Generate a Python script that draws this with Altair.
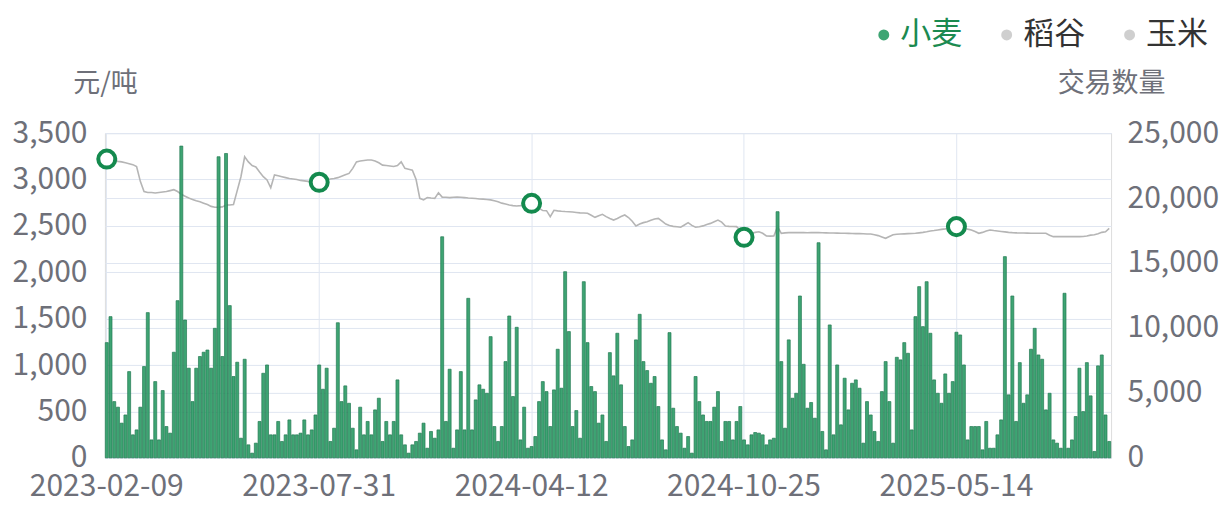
import altair as alt
import pandas as pd
import numpy as np

# ---------------- data ----------------
label_dates = ["2023-02-09", "2023-07-31", "2024-04-12", "2024-10-25", "2025-05-14"]
label_step = 57
n_points = 270

volume = [
    8870, 10870, 4330, 3900, 2670, 3300, 6640, 1770, 2150, 3900,
    7030, 11180, 1380, 5870, 1380, 5180, 2410, 1900, 8130, 12100,
    24000, 10610, 6900, 4330, 6900, 7800, 8130, 8300, 6900, 9970,
    23180, 7800, 23430, 11720, 6260, 7360, 1510, 7590, 1000, 360,
    1130, 2800, 6510, 7150, 1770, 1770, 2800, 1260, 1770, 2920,
    1770, 1770, 1900, 2920, 1770, 2150, 3300, 7150, 5280, 6900,
    1260, 2280, 10400, 4330, 5540, 4200, 2280, 615, 3900, 1770,
    2800, 1770, 3690, 4590, 1260, 2800, 1770, 2800, 6000, 1770,
    1000, 360, 1000, 1260, 1900, 2670, 740, 2030, 1510, 2150,
    17020, 2800, 6820, 740, 2150, 6640, 2150, 12280, 2150, 4460,
    5620, 5280, 4970, 9330, 2410, 1260, 2410, 7410, 10920, 4720,
    10050, 1380, 3900, 740, 870, 1640, 4330, 5870, 5100, 2410,
    5230, 8360, 5360, 14330, 9720, 2410, 3640, 1510, 13560, 8870,
    5490, 5100, 2670, 3300, 1260, 8100, 6310, 9590, 5620, 2410,
    870, 1380, 9080, 11050, 7410, 6720, 5740, 6260, 3950, 1380,
    615, 9640, 3820, 2410, 1900, 740, 1640, 360, 6260, 4330,
    3300, 2800, 2800, 3900, 5100, 1260, 2800, 2800, 1380, 2800,
    3950, 1380, 1000, 1770, 1950, 1900, 1770, 1000, 1380, 1510,
    18950, 7410, 2280, 9080, 4590, 4970, 12460, 7200, 3820, 4260,
    3050, 16560, 2030, 615, 10230, 1770, 7150, 2540, 6130, 3690,
    5740, 6000, 5360, 1130, 4330, 3300, 2030, 1260, 5100, 7410,
    4330, 1130, 7740, 7540, 8870, 8050, 2150, 10870, 13180, 10100,
    13560, 9590, 6000, 4970, 4200, 6460, 4970, 5870, 9670, 9460,
    7150, 1380, 2410, 2410, 2410, 615, 2800, 740, 740, 1770,
    2920, 15490, 4850, 12460, 2800, 7330, 4200, 4850, 8360, 9970,
    7920, 7590, 3690, 4970, 1380, 1130, 740, 12670, 740, 1380,
    3180, 6900, 3560, 7330, 4770, 490, 7080, 7920, 3300, 1260,
]

price = [
    3220, 3215, 3205, 3195, 3190, 3180, 3170, 3160, 3140, 2980,
    2870, 2860, 2860, 2855, 2860, 2865, 2870, 2880, 2890, 2870,
    2840, 2820, 2800, 2785, 2770, 2760, 2745, 2730, 2710, 2700,
    2700, 2705, 2725, 2725, 2730, 2880, 3030, 3245, 3190, 3150,
    3135, 3080, 3030, 2995, 2910, 3050, 3040, 3030, 3020, 3010,
    3005, 3000, 2990, 2985, 2980, 2975, 2972, 2970, 2980, 2995,
    3005, 3010, 3020, 3035, 3050, 3065, 3120, 3190, 3200, 3205,
    3210, 3210, 3200, 3180, 3155, 3150, 3145, 3140, 3150, 3190,
    3120, 3110, 3100, 3000, 2797, 2780, 2805, 2800, 2797, 2857,
    2810, 2808, 2805, 2808, 2810, 2808, 2805, 2800, 2798, 2795,
    2790, 2788, 2784, 2780, 2770, 2760, 2745, 2735, 2725, 2718,
    2714, 2718, 2725, 2735, 2743, 2700, 2690, 2665, 2664, 2600,
    2668, 2662, 2658, 2655, 2653, 2650, 2645, 2640, 2638, 2636,
    2615, 2592, 2610, 2625, 2600, 2580, 2563, 2580, 2600, 2617,
    2590, 2550, 2499, 2520, 2535, 2545, 2560, 2575, 2581, 2550,
    2520, 2505, 2495, 2490, 2485, 2510, 2535, 2505, 2485, 2490,
    2500, 2515, 2527, 2545, 2563, 2540, 2499, 2495, 2493, 2492,
    2450, 2377, 2400, 2420, 2430, 2437, 2420, 2391, 2390, 2391,
    2492, 2420, 2425, 2427, 2428, 2427, 2428, 2427, 2426, 2427,
    2428, 2427, 2426, 2425, 2424, 2423, 2422, 2421, 2420, 2419,
    2418, 2417, 2416, 2415, 2413, 2412, 2405, 2395, 2380, 2366,
    2385, 2405, 2410, 2412, 2414, 2416, 2418, 2420, 2425, 2430,
    2437, 2445, 2450, 2456, 2462, 2468, 2475, 2483, 2492, 2485,
    2475, 2465, 2456, 2440, 2420, 2430, 2445, 2456, 2450, 2445,
    2440, 2435, 2430, 2427, 2425, 2424, 2423, 2422, 2421, 2420,
    2420, 2420, 2420, 2400, 2384, 2384, 2384, 2384, 2384, 2384,
    2384, 2384, 2385, 2390, 2400, 2405, 2415, 2430, 2437, 2474,
]

crops = ["小麦", "稻谷", "玉米"]
crop_colors = ["#34a06c", "#cccccc", "#cccccc"]

# category names (trading dates) between the labelled dates
anchor_ts = pd.to_datetime(label_dates)
dates = []
for i in range(n_points):
    seg = min(i // label_step, len(anchor_ts) - 2)
    a, b = anchor_ts[seg], anchor_ts[seg + 1]
    frac = (i - seg * label_step) / label_step
    d = a + (b - a) * frac
    dates.append(d.strftime("%Y-%m-%d"))
for k, lab in enumerate(label_dates):
    dates[k * label_step] = lab

df = pd.DataFrame({
    "date": dates,
    "idx": list(range(n_points)),
    "volume": volume,
    "price": price,
    "crop": ["小麦"] * n_points,
})

FONT = "Noto Sans CJK SC"
GRID = "#E0E6F1"
LABEL = "#6E7079"

x_enc = alt.X(
    "date:O",
    sort=None,
    scale=alt.Scale(paddingInner=0.2, paddingOuter=0.1),
    axis=alt.Axis(
        values=label_dates, labelAngle=0, title=None, grid=True, gridColor=GRID,
        bandPosition=0.5, ticks=False, domain=True, domainColor=GRID,
        labelFontSize=30, labelColor=LABEL, labelFont=FONT, labelPadding=14,
    ),
)

base = alt.Chart(df)

line = base.mark_line(color="#b5b5b5", strokeWidth=1.6).encode(
    x=x_enc,
    y=alt.Y(
        "price:Q",
        scale=alt.Scale(domain=[0, 3500], nice=False),
        axis=alt.Axis(
            orient="left", values=[0, 500, 1000, 1500, 2000, 2500, 3000, 3500],
            format=",.0f", grid=True, gridColor=GRID, domain=False, ticks=False,
            labelFontSize=30, labelColor=LABEL, labelFont=FONT, labelPadding=18,
            title="元/吨", titleAngle=0, titleX=0, titleY=-50, titleAlign="center",
            titleBaseline="middle", titleFontSize=27, titleFontWeight="normal",
            titleColor=LABEL, titleFont=FONT,
        ),
    ),
)

bars = base.mark_bar(stroke="#18744a", strokeWidth=0.7, opacity=0.95).encode(
    x=x_enc,
    y=alt.Y(
        "volume:Q",
        scale=alt.Scale(domain=[0, 25000], nice=False),
        axis=alt.Axis(
            orient="right", values=[0, 5000, 10000, 15000, 20000, 25000],
            format=",.0f", grid=True, gridColor=GRID, domain=False, ticks=False,
            labelFontSize=30, labelColor=LABEL, labelFont=FONT, labelPadding=16,
            title="交易数量", titleAngle=0, titleX=0, titleY=-50, titleAlign="center",
            titleBaseline="middle", titleFontSize=27, titleFontWeight="normal",
            titleColor=LABEL, titleFont=FONT,
        ),
    ),
    color=alt.Color(
        "crop:N",
        scale=alt.Scale(domain=crops, range=crop_colors),
        legend=alt.Legend(
            orient="none", legendX=764, legendY=-114, direction="horizontal",
            title=None, symbolType="circle", symbolSize=120, symbolStrokeWidth=0,
            labelFontSize=31, labelFont=FONT, labelOffset=1, columnPadding=29,
            labelColor={"expr": "datum.label === '小麦' ? '#1b8a50' : '#333333'"},
        ),
    ),
)

pts = base.mark_point(
    filled=False, fill="white", fillOpacity=1, stroke="#148a4e", strokeWidth=4, size=290, opacity=1
).encode(
    x=x_enc,
    y=alt.Y("price:Q", scale=alt.Scale(domain=[0, 3500], nice=False), axis=None),
).transform_filter(f"datum.idx % {label_step} == 0")

chart = (
    alt.layer(line, bars, pts)
    .resolve_scale(y="independent")
    .properties(
        width=1007, height=325,
        autosize=alt.AutoSizeParams(type="none"),
        padding={"left": 97, "top": 125, "right": 110, "bottom": 40},
    )
    .configure_view(stroke=GRID)
    .configure(background="white")
)

chart.save("out.html", embed_options={"renderer": "svg", "actions": False})
